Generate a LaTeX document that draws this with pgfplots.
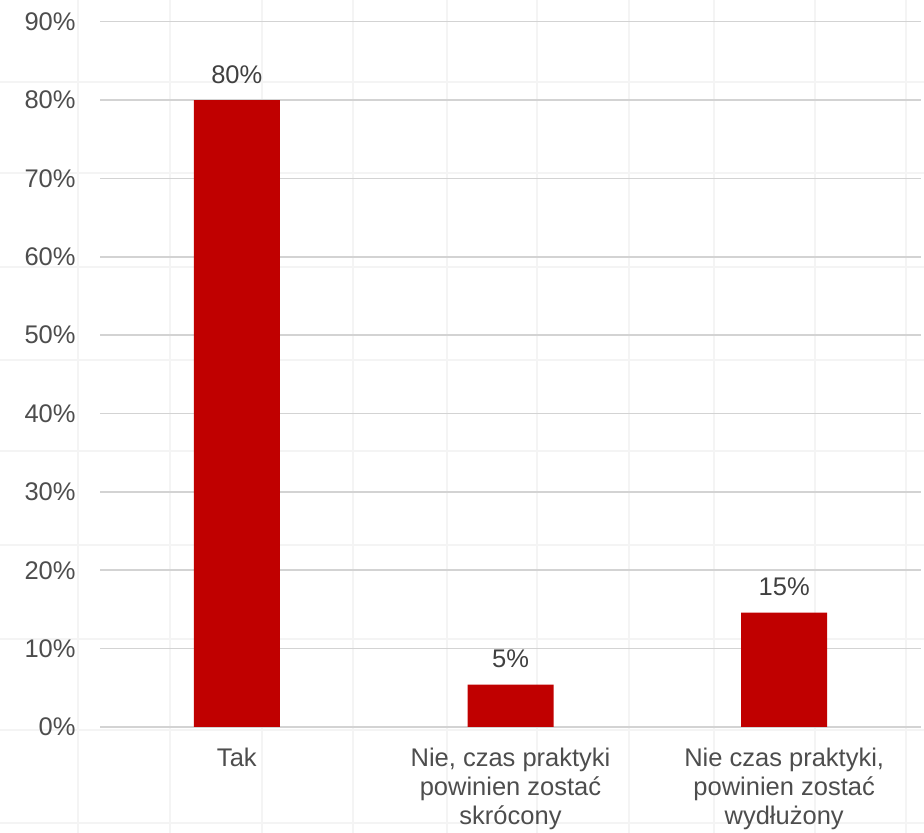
\documentclass[border=0pt]{standalone}
\usepackage{fontspec}
\setmainfont{Liberation Sans}
\usepackage{pgfplots}
\pgfplotsset{compat=1.18}
\definecolor{barred}{HTML}{C00000}
\definecolor{txt}{HTML}{4D4D4D}
\definecolor{lbl}{HTML}{404040}
\definecolor{grd}{HTML}{D3D3D3}
\definecolor{faint}{HTML}{F4F4F4}
\begin{document}
\begin{tikzpicture}
\begin{axis}[name=bg, at={(0,0)}, anchor=south west, scale only axis,
  width=462pt, height=416.5pt, xmin=0, xmax=924, ymin=0, ymax=833, y dir=reverse,
  axis line style={draw=none}, major tick length=0pt,
  xtick={78,170,262,353,447,537,629,714,815,906},
  ytick={82,173,267,360,451,545,639,730,823},
  xticklabels={}, yticklabels={},
  grid=major, major grid style={faint, line width=0.8pt}]
\end{axis}
\begin{axis}[at={(50pt,53pt)}, anchor=south west, scale only axis,
  width=410.5pt, height=352.65pt,
  xmin=0.5, xmax=3.5, ymin=0, ymax=90,
  axis line style={draw=none}, major tick length=0pt,
  ytick={0,10,...,90},
  yticklabels={0\%,10\%,20\%,30\%,40\%,50\%,60\%,70\%,80\%,90\%},
  ymajorgrids, major grid style={grd, line width=0.8pt},
  xtick={1,2,3},
  xticklabels={Tak, {Nie, czas praktyki\\powinien zostać\\skrócony}, {Nie czas praktyki,\\powinien zostać\\wydłużony}},
  tick label style={font=\fontsize{12.75}{14.5}\selectfont, text=txt},
  xticklabel style={align=center, anchor=north, inner sep=0pt, yshift=-10.5pt},
  yticklabel style={anchor=east, inner sep=0pt, xshift=-12pt},
  clip=false]
\addplot[ybar, bar width=43pt, fill=barred, draw=none,
  nodes near coords, point meta=explicit symbolic,
  nodes near coords style={anchor=base, inner sep=0pt, yshift=8.5pt,
    font=\fontsize{12.75}{14.5}\selectfont, text=lbl}]
  coordinates {(1,80) [80\%] (2,5.4) [5\%] (3,14.6) [15\%]};
\end{axis}
\pgfresetboundingbox
\useasboundingbox (0,0) rectangle (462pt,416.5pt);
\end{tikzpicture}
\end{document}
